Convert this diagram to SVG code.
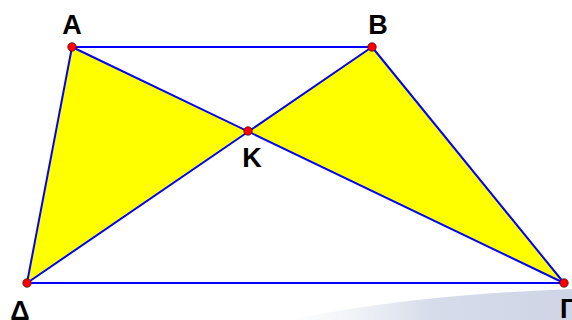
<svg xmlns="http://www.w3.org/2000/svg" width="572" height="320" viewBox="0 0 572 320">
<defs>
<linearGradient id="wm" x1="0" y1="0" x2="1" y2="0">
<stop offset="0" stop-color="#ffffff"/>
<stop offset="0.25" stop-color="#eef1f7"/>
<stop offset="0.5" stop-color="#d6dcea"/>
<stop offset="1" stop-color="#cdd5e6"/>
</linearGradient>
<style>
.fill{fill:#ffff00;stroke:none}
.edge{stroke:#0000ff;stroke-width:2;fill:none;stroke-linecap:round}
.pt{fill:#ff0000;stroke:#550000;stroke-width:0.8}
.lbl{font-family:"Liberation Sans",Arial,sans-serif;font-weight:bold;font-size:27px;fill:#000;text-anchor:middle}
</style>
</defs>
<rect width="572" height="320" fill="#ffffff"/>
<path d="M290 320 Q410 295 572 289 L572 320 Z" fill="url(#wm)"/>
<g id="shading">
<polygon class="fill" points="72,47 248,131 27,283"/>
<polygon class="fill" points="372,47 248,131 564,283"/>
</g>
<g id="connectors">
<line class="edge" x1="72" y1="47" x2="372" y2="47"/>
<line class="edge" x1="372" y1="47" x2="564" y2="283"/>
<line class="edge" x1="564" y1="283" x2="27" y2="283"/>
<line class="edge" x1="27" y1="283" x2="72" y2="47"/>
<line class="edge" x1="72" y1="47" x2="564" y2="283"/>
<line class="edge" x1="372" y1="47" x2="27" y2="283"/>
</g>
<g id="A"><circle class="pt" cx="72" cy="47" r="4.2"/><text class="lbl" x="72" y="34">A</text></g>
<g id="B"><circle class="pt" cx="372" cy="47" r="4.2"/><text class="lbl" x="378" y="34">B</text></g>
<g id="K"><circle class="pt" cx="248" cy="131" r="4.2"/><text class="lbl" x="252" y="167">K</text></g>
<g id="Delta"><circle class="pt" cx="27" cy="283" r="4.2"/><text class="lbl" x="20" y="320">Δ</text></g>
<g id="Gamma"><circle class="pt" cx="564" cy="283" r="4.2"/><text class="lbl" x="560" y="318" style="text-anchor:start">Γ</text></g>
</svg>
